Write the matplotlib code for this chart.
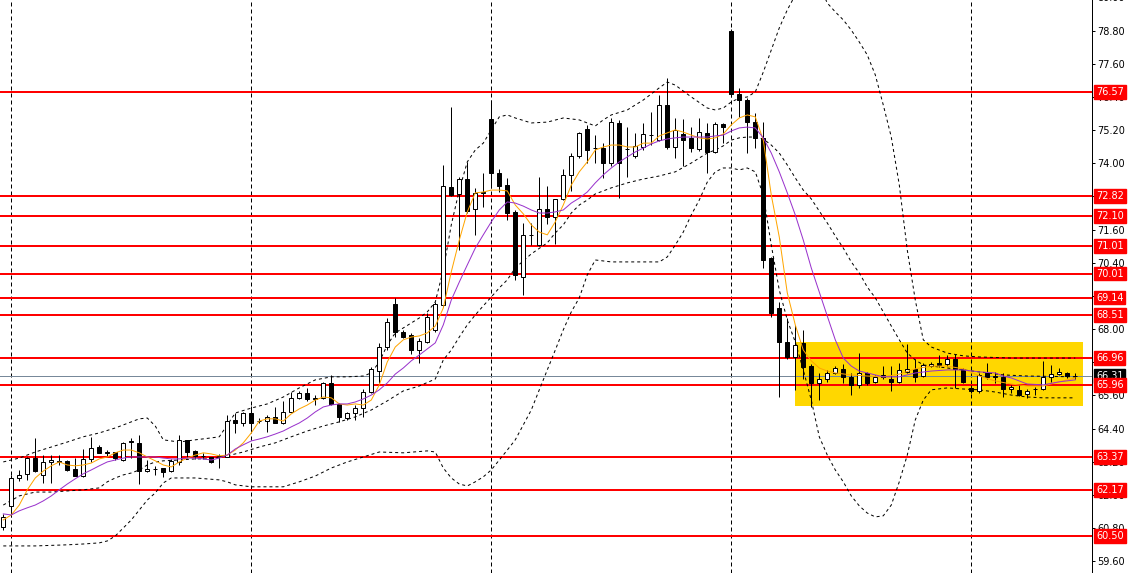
import matplotlib
matplotlib.use('Agg')
import matplotlib.pyplot as plt
import matplotlib.transforms as mtransforms
from matplotlib.patches import Rectangle

# ---------------- data ----------------
opens = [60.84, 61.60, 62.60, 62.74, 63.35, 62.72, 63.18, 63.18, 63.23, 62.93,
         62.69, 63.29, 63.72, 63.55, 63.54, 63.26, 63.95, 63.88, 62.86, 62.93,
         62.96, 62.85, 63.18, 63.99, 63.59, 63.42, 63.36, 63.40, 63.38, 64.70,
         64.59, 64.97, 64.66, 64.68, 64.83, 64.61, 65.01, 65.49, 65.68, 65.46,
         65.49, 66.04, 65.29, 64.77, 64.95, 65.13, 65.73, 66.49, 67.34, 68.91,
         67.91, 67.79, 67.24, 67.54, 67.97, 68.87, 73.13, 72.88, 73.42, 72.33,
         72.94, 75.59, 73.66, 73.21, 72.25, 69.90, 71.40, 71.04, 72.34, 72.07,
         72.70, 73.58, 74.26, 75.23, 74.54, 74.54, 74.00, 75.47, 74.52, 74.26,
         74.60, 75.02, 74.84, 76.11, 74.58, 75.06, 74.90, 74.51, 75.11, 74.42,
         75.42, 78.79, 76.51, 76.29, 75.51, 74.90, 70.56, 68.75, 67.54, 67.00,
         67.49, 66.66, 66.04, 66.18, 66.40, 66.55, 66.28, 65.98, 66.40, 66.07,
         66.34, 66.20, 66.10, 66.46, 66.54, 66.30, 66.66, 66.76, 66.72, 66.91,
         66.54, 65.86, 65.75, 66.40, 66.28, 66.28, 65.83, 65.81, 65.65, 65.83,
         65.83, 66.28, 66.38, 66.40, 66.31]
highs = [61.30, 62.72, 62.90, 63.37, 64.07, 63.44, 63.44, 63.44, 63.26, 63.35,
         63.66, 64.08, 63.80, 63.62, 63.56, 63.92, 64.06, 64.17, 63.26, 63.05,
         62.96, 63.29, 64.17, 64.00, 63.62, 63.50, 63.38, 63.48, 64.89, 64.95,
         64.98, 65.22, 64.78, 64.89, 65.19, 65.41, 65.73, 65.75, 65.86, 65.61,
         66.10, 66.34, 65.32, 65.00, 65.25, 65.82, 66.64, 67.49, 68.39, 69.11,
         67.98, 67.85, 67.67, 68.57, 68.99, 73.94, 76.05, 73.52, 74.06, 73.10,
         73.64, 76.29, 73.78, 73.46, 72.30, 71.83, 71.83, 73.52, 73.18, 72.72,
         73.78, 74.38, 75.15, 75.39, 75.02, 74.72, 75.63, 75.55, 75.30, 75.11,
         75.45, 75.87, 76.47, 77.08, 75.63, 75.59, 75.30, 75.63, 75.45, 75.50,
         75.45, 78.85, 76.71, 76.35, 75.81, 75.51, 70.60, 68.99, 68.39, 68.15,
         67.95, 66.75, 66.40, 66.52, 66.66, 66.75, 66.40, 67.12, 66.44, 66.34,
         66.66, 66.66, 66.76, 67.47, 66.90, 66.76, 66.82, 67.05, 67.05, 67.11,
         66.60, 65.98, 66.40, 66.76, 66.46, 66.40, 65.98, 65.98, 65.83, 65.92,
         66.85, 66.70, 66.58, 66.44, 66.40]
lows = [60.73, 61.21, 62.50, 62.54, 62.84, 62.43, 62.43, 63.08, 62.87, 62.68,
        62.66, 63.20, 63.50, 63.41, 63.26, 63.24, 63.35, 62.38, 62.82, 62.72,
        62.66, 62.83, 63.08, 63.35, 63.31, 63.30, 63.15, 62.98, 63.36, 64.23,
        64.50, 64.29, 64.59, 64.29, 64.60, 64.58, 64.98, 65.45, 65.40, 65.25,
        65.45, 65.25, 64.65, 64.70, 64.71, 64.83, 65.70, 66.06, 67.24, 67.73,
        67.68, 67.10, 66.76, 67.50, 67.90, 68.80, 72.80, 70.86, 72.20, 71.40,
        72.43, 73.10, 72.97, 71.95, 69.78, 69.23, 71.04, 71.00, 71.80, 71.08,
        72.68, 73.00, 74.20, 74.00, 74.02, 73.46, 73.90, 72.73, 73.52, 74.20,
        74.48, 74.66, 74.80, 74.50, 74.18, 73.90, 74.40, 74.45, 73.66, 74.38,
        74.72, 76.40, 75.69, 74.36, 74.54, 70.20, 68.45, 65.55, 66.90, 65.79,
        66.20, 65.19, 65.43, 66.08, 66.36, 66.04, 65.61, 65.86, 65.98, 66.04,
        66.20, 65.75, 66.05, 66.40, 66.10, 66.25, 66.62, 66.64, 66.68, 65.86,
        66.05, 65.70, 65.68, 66.20, 66.04, 65.55, 65.69, 65.57, 65.51, 65.63,
        65.80, 66.10, 66.32, 66.22, 66.20]
closes = [61.21, 62.60, 62.72, 63.32, 62.86, 63.18, 63.26, 63.21, 62.90, 62.69,
          63.29, 63.71, 63.53, 63.53, 63.35, 63.89, 63.90, 62.85, 62.93, 62.92,
          62.84, 63.23, 63.99, 63.56, 63.41, 63.41, 63.20, 63.42, 64.68, 64.59,
          64.95, 64.60, 64.68, 64.83, 64.61, 65.01, 65.49, 65.68, 65.45, 65.52,
          66.04, 65.29, 64.83, 64.95, 65.13, 65.73, 66.54, 67.34, 68.27, 67.91,
          67.73, 67.24, 67.57, 68.43, 68.91, 73.18, 72.85, 73.42, 72.28, 72.94,
          72.95, 73.66, 73.18, 72.21, 69.96, 71.41, 71.42, 72.34, 72.07, 72.70,
          73.58, 74.26, 75.09, 74.48, 74.54, 74.00, 75.51, 74.00, 74.50, 74.63,
          75.06, 75.02, 76.11, 74.58, 75.21, 74.84, 74.54, 75.14, 74.42, 75.42,
          75.30, 76.51, 76.29, 75.51, 74.90, 70.50, 68.57, 67.54, 67.00, 67.42,
          66.64, 66.04, 66.18, 66.40, 66.58, 66.28, 65.98, 66.40, 66.04, 66.28,
          66.26, 66.10, 66.50, 66.54, 66.28, 66.70, 66.73, 66.70, 66.91, 66.54,
          66.10, 65.75, 66.34, 66.26, 66.29, 65.83, 65.90, 65.63, 65.77, 65.84,
          66.28, 66.38, 66.46, 66.30, 66.31]

# Bollinger band lines at these bar indices
bb_upper_idx = [0, 2, 4, 6, 8, 10, 12, 14, 16, 17, 18, 19, 20, 22, 24, 26, 27, 28, 29, 31,
                33, 35, 37, 39, 41, 43, 45, 46, 47, 48, 49, 50, 52, 53, 54, 55, 56, 57, 58, 59,
                60, 61, 62, 63, 64, 66, 68, 70, 72, 74, 75, 76, 78, 80, 82, 83, 84, 86, 88, 89,
                90, 91, 92, 93, 94, 95, 96, 97, 98, 99, 100, 101, 102, 103, 104, 105, 106, 107, 108, 109,
                110, 111, 112, 113, 114, 115, 116, 118, 120, 122, 126, 130, 134]
bb_upper = [63.19, 63.33, 63.55, 63.73, 63.91, 64.10, 64.24, 64.42, 64.64, 64.75, 64.78, 64.49, 63.99, 63.91, 63.99, 64.06, 64.10, 64.53, 64.96, 65.14,
            65.29, 65.54, 65.87, 66.16, 66.27, 66.27, 66.30, 66.41, 66.81, 67.42, 67.86, 68.04, 68.40, 68.62, 68.98, 70.14, 71.77, 73.03, 74.05, 74.48,
            74.73, 75.21, 75.68, 75.75, 75.64, 75.46, 75.49, 75.64, 75.57, 75.35, 75.57, 75.75, 75.93, 76.29, 76.73, 76.94, 76.83, 76.40, 76.00, 75.93,
            76.00, 76.22, 76.36, 76.40, 76.58, 77.30, 78.10, 78.90, 79.55, 80.09, 80.45, 80.63, 80.45, 79.80, 79.48, 79.19, 78.82, 78.39, 77.92, 77.20,
            76.11, 74.95, 73.22, 70.86, 69.05, 67.61, 67.35, 67.13, 67.03, 66.99, 66.95, 66.95, 66.95]
bb_middle_idx = [0, 2, 4, 6, 8, 10, 12, 13, 14, 15, 16, 17, 18, 19, 20, 22, 24, 26, 28, 30,
                 32, 34, 36, 38, 40, 42, 44, 46, 48, 50, 52, 54, 55, 56, 57, 58, 59, 60, 61, 62,
                 63, 64, 66, 68, 69, 70, 71, 72, 73, 74, 76, 78, 80, 82, 84, 86, 87, 88, 89, 90,
                 91, 92, 93, 94, 95, 96, 97, 98, 99, 100, 101, 102, 103, 104, 105, 106, 107, 108, 109, 110,
                 111, 112, 113, 114, 115, 118, 120, 122, 125, 128, 134]
bb_middle = [61.63, 61.96, 62.10, 62.10, 62.14, 62.18, 62.25, 62.47, 62.61, 62.72, 62.79, 62.90, 63.08, 63.19, 63.23, 63.26, 63.30, 63.30, 63.41, 63.55,
             63.73, 63.88, 64.10, 64.31, 64.49, 64.64, 64.82, 65.07, 65.40, 65.76, 65.94, 66.19, 66.88, 67.24, 67.71, 68.15, 68.51, 68.84, 69.16, 69.49,
             69.78, 70.21, 70.72, 71.12, 71.48, 71.77, 72.20, 72.49, 72.67, 72.89, 73.11, 73.29, 73.43, 73.54, 73.69, 74.01, 74.19, 74.37, 74.48, 74.63,
             74.84, 74.92, 74.95, 74.95, 74.88, 74.66, 74.37, 73.94, 73.47, 73.03, 72.71, 72.27, 71.84, 71.37, 70.93, 70.43, 70.03, 69.52, 69.13, 68.62,
             68.11, 67.61, 67.13, 66.88, 66.70, 66.59, 66.52, 66.45, 66.34, 66.30, 66.27]
bb_lower_idx = [0, 4, 8, 10, 12, 13, 14, 15, 16, 17, 18, 19, 20, 21, 24, 27, 28, 29, 31, 35,
                37, 39, 41, 43, 45, 47, 50, 53, 54, 55, 56, 57, 58, 59, 60, 61, 62, 63, 64, 65,
                66, 67, 68, 69, 70, 71, 72, 73, 74, 76, 80, 82, 83, 84, 85, 86, 87, 88, 89, 90,
                91, 92, 93, 94, 95, 96, 97, 98, 99, 100, 101, 102, 103, 104, 105, 106, 107, 108, 109, 110,
                111, 112, 113, 114, 115, 116, 118, 120, 122, 124, 126, 128, 130, 134]
bb_lower = [60.15, 60.15, 60.19, 60.22, 60.26, 60.33, 60.51, 60.80, 61.09, 61.45, 61.81, 62.07, 62.43, 62.61, 62.61, 62.54, 62.47, 62.36, 62.29, 62.29,
            62.47, 62.68, 62.97, 63.19, 63.37, 63.55, 63.52, 63.59, 63.55, 62.97, 62.61, 62.39, 62.32, 62.47, 62.65, 62.90, 63.26, 63.62, 63.99, 64.53,
            65.07, 65.80, 66.52, 67.24, 67.97, 68.62, 69.13, 69.96, 70.50, 70.43, 70.43, 70.43, 70.61, 71.04, 71.51, 72.13, 72.67, 73.32, 73.69, 73.83,
            73.83, 73.76, 73.83, 73.69, 72.85, 71.04, 69.41, 68.33, 67.53, 66.52, 65.43, 64.10, 63.44, 62.90, 62.47, 61.96, 61.60, 61.34, 61.20, 61.24,
            61.63, 62.47, 63.44, 64.71, 65.43, 65.80, 65.87, 65.83, 65.80, 65.72, 65.61, 65.54, 65.51, 65.51]

# moving averages
ma_fast_idx = list(range(0, 105)) + [106, 108, 110, 112, 114, 116, 118, 120, 122, 124, 126, 128, 130, 132, 134]
ma_fast = [61.09, 61.27, 61.63, 62.18, 62.61, 62.86, 63.05, 63.19, 63.08, 63.05,
           63.08, 63.15, 63.30, 63.37, 63.52, 63.62, 63.62, 63.52, 63.37, 63.23,
           63.08, 63.01, 63.19, 63.33, 63.44, 63.52, 63.48, 63.41, 63.44, 63.62,
           63.88, 64.24, 64.67, 64.75, 64.75, 64.67, 64.93, 65.11, 65.25, 65.43,
           65.54, 65.51, 65.29, 65.25, 65.29, 65.25, 65.43, 65.98, 66.81, 67.35,
           67.61, 67.71, 67.75, 67.86, 68.11, 68.76, 70.07, 71.22, 72.24, 72.93,
           72.96, 73.03, 73.03, 73.00, 72.49, 72.17, 71.77, 71.51, 71.41, 71.88,
           72.49, 73.21, 73.69, 74.05, 74.48, 74.59, 74.66, 74.66, 74.59, 74.59,
           74.73, 74.73, 74.99, 75.10, 75.21, 75.13, 75.02, 74.92, 74.88, 74.92,
           75.06, 75.39, 75.64, 75.75, 75.68, 74.84, 72.85, 71.33, 69.31, 68.15,
           67.24, 66.85, 66.59, 66.48, 66.41,
           66.34, 66.30, 66.27, 66.37, 66.56, 66.66, 66.66, 66.56, 66.30, 66.12,
           66.01, 65.94, 65.94, 66.09, 66.23]
ma_slow_idx = list(range(0, 111)) + [112, 114, 116, 118, 120, 122, 124, 125, 126, 127, 128, 130, 132, 134]
ma_slow = [61.31, 61.27, 61.42, 61.53, 61.63, 61.78, 61.96, 62.18, 62.39, 62.58,
           62.76, 62.90, 63.05, 63.19, 63.26, 63.33, 63.37, 63.37, 63.37, 63.37,
           63.33, 63.30, 63.30, 63.33, 63.33, 63.30, 63.26, 63.33, 63.44, 63.66,
           63.81, 63.95, 64.02, 64.10, 64.20, 64.31, 64.46, 64.60, 64.78, 65.00,
           65.18, 65.25, 65.29, 65.29, 65.36, 65.47, 65.61, 65.80, 66.05, 66.37,
           66.59, 66.85, 67.06, 67.28, 67.50, 68.15, 69.05, 69.70, 70.32, 70.93,
           71.41, 71.88, 72.31, 72.60, 72.56, 72.45, 72.31, 72.20, 72.20, 72.24,
           72.31, 72.56, 72.74, 72.96, 73.29, 73.58, 73.83, 74.05, 74.23, 74.41,
           74.55, 74.70, 74.81, 74.88, 74.92, 74.95, 74.95, 74.95, 74.95, 74.99,
           75.02, 75.17, 75.28, 75.31, 75.28, 74.92, 74.37, 73.69, 72.93, 72.13,
           71.22, 70.21, 69.34, 68.47, 67.61, 66.95, 66.66, 66.48, 66.41, 66.34,
           66.27,
           66.27, 66.41, 66.48, 66.52, 66.52, 66.45, 66.41, 66.30, 66.23, 66.12,
           66.01, 65.98, 66.09, 66.16]

levels = [76.57, 72.82, 72.10, 71.01, 70.01, 69.14, 68.51, 66.96, 65.96, 63.37, 62.17, 60.50]
current_price = 66.31
zone_bars = (99, 135)
zone_prices = (65.23, 67.54)
grid_bars = [1, 31, 61, 91, 121]
tick_values = [59.60, 60.80, 62.00, 63.20, 64.40, 65.60, 66.80, 68.00, 69.20,
               70.40, 71.60, 72.80, 74.00, 75.20, 76.40, 77.60, 78.80]
top_label = 80.00

# ---------------- figure ----------------
W, H = 1131, 573
fig = plt.figure(figsize=(W / 100, H / 100), dpi=100)
fig.patch.set_facecolor('white')
ax = fig.add_axes([0, 0, 1092 / W, 1])
ax.set_facecolor('white')
px = 0.72  # one pixel in points

n = len(closes)
ax.set_xlim(-0.41, 136.09)
ax.set_ylim(59.17, 79.91)

# zone
ax.add_patch(Rectangle((zone_bars[0], zone_prices[0]), zone_bars[1] - zone_bars[0],
                       zone_prices[1] - zone_prices[0], facecolor='#FFD700',
                       edgecolor='none', zorder=1))

# vertical grid
for g in grid_bars:
    ax.axvline(g, color='black', lw=px, ls=(0, (4, 3)), zorder=1.5)

# horizontal levels
for lv in levels:
    ax.axhline(lv, color='#FF0000', lw=2 * px, zorder=2)
ax.axhline(current_price, color='#778899', lw=px, zorder=2)

# Bollinger bands
for idx, vals in ((bb_upper_idx, bb_upper), (bb_middle_idx, bb_middle), (bb_lower_idx, bb_lower)):
    ax.plot(idx, vals, color='black', lw=px, ls=(0, (3, 3)), zorder=3)

# candles
xs = list(range(n))
ax.vlines(xs, lows, highs, color='black', lw=px, zorder=4)
bottoms = [min(o, c) for o, c in zip(opens, closes)]
heights = [abs(c - o) for o, c in zip(opens, closes)]
faces = ['white' if c >= o else 'black' for o, c in zip(opens, closes)]
ax.bar(xs, heights, bottom=bottoms, width=0.55, color=faces, edgecolor='black',
       linewidth=px, zorder=4.5)

# moving averages
ax.plot(ma_fast_idx, ma_fast, color='#FFA500', lw=px, zorder=5)
ax.plot(ma_slow_idx, ma_slow, color='#9932CC', lw=px, zorder=5.5)

# right axis
for s in ('left', 'top', 'bottom'):
    ax.spines[s].set_visible(False)
ax.spines['right'].set_color('black')
ax.spines['right'].set_linewidth(px)
ax.set_xticks([])
ax.yaxis.tick_right()
ax.set_yticks(tick_values)
ax.set_yticklabels(['%.2f' % v for v in tick_values])
ax.tick_params(axis='y', direction='out', length=2.2, width=px, colors='black',
               labelsize=7, pad=1.6)

trans = mtransforms.blended_transform_factory(ax.transAxes, ax.transData)
ax.text(1.0 + 5 / 1092, top_label, '%.2f' % top_label, transform=trans, ha='left',
        va='center', fontsize=7, color='black', clip_on=False)
ax.text(1.0 + 4 / 1092, current_price, '%.2f' % current_price, transform=trans,
        ha='left', va='center', fontsize=7, color='white', clip_on=False, zorder=9,
        bbox=dict(boxstyle='square,pad=0.2', fc='black', ec='black'))
for lv in levels:
    ax.text(1.0 + 4 / 1092, lv, '%.2f' % lv, transform=trans, ha='left', va='center',
            fontsize=7, color='white', clip_on=False, zorder=10,
            bbox=dict(boxstyle='square,pad=0.2', fc='#FF0000', ec='#FF0000'))

fig.savefig('out.png', dpi=100)
